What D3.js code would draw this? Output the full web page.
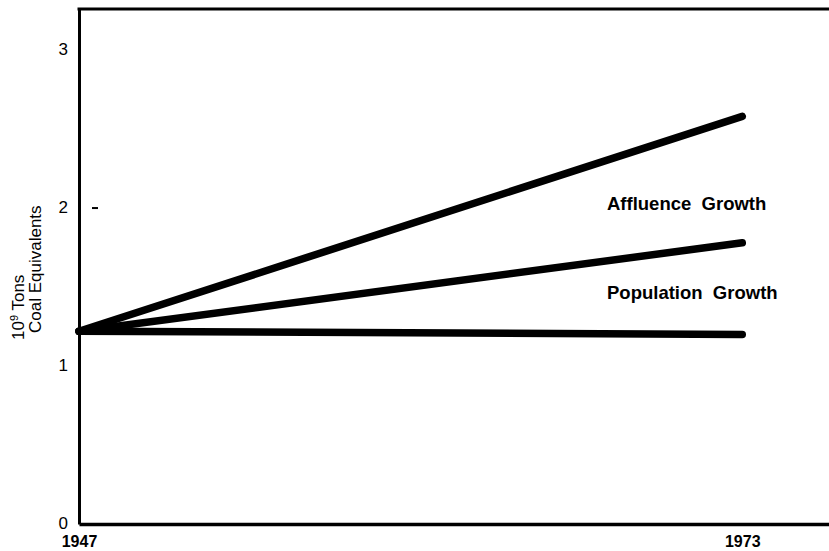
<!DOCTYPE html>
<html>
<head>
<meta charset="utf-8">
<script src="https://cdn.jsdelivr.net/npm/d3@7"></script>
<style>
  body { margin: 0; background: #fff; }
  svg { display: block; font-family: "Liberation Sans", Arial, sans-serif; }
</style>
</head>
<body>
<div id="chart"></div>
<script>
// values
const years = [1947, 1973];
const affluenceGrowth = [1.22, 2.58];
const populationGrowth = [1.22, 1.78];
const baseLevel = [1.22, 1.20];
const yTicks = [0, 1, 2, 3];
const seriesLabels = ["Affluence\u00a0 Growth", "Population\u00a0 Growth"];
const yLabelLines = ["10", "9", " Tons", "Coal Equivalents"];

const width = 829, height = 551;
const margin = {top: 9, right: 0, bottom: 27, left: 79};

const svg = d3.select("#chart")
    .append("svg")
    .attr("width", width)
    .attr("height", height);

// x runs past 1973 to the right edge of the frame
const x = d3.scaleLinear()
    .domain([1947, 1976.4])
    .range([margin.left, width - margin.right]);

const y = d3.scaleLinear()
    .domain([0, 3.26])
    .range([height - margin.bottom, margin.top]);

// y axis
const yAxis = svg.append("g")
    .attr("transform", "translate(" + margin.left + ",0)")
    .call(d3.axisLeft(y).tickValues(yTicks).tickSize(0).tickSizeOuter(0).tickPadding(11).tickFormat(d3.format("d")));
yAxis.select(".domain").attr("stroke", "#000").attr("stroke-width", 3);
yAxis.selectAll("text")
    .attr("font-size", 17)
    .attr("dy", "0.25em")
    .attr("font-family", "Liberation Sans, Arial, sans-serif")
    .attr("fill", "#000");

// x axis
const xAxis = svg.append("g")
    .attr("transform", "translate(0," + y(0) + ")")
    .call(d3.axisBottom(x).tickValues(years).tickSize(0).tickSizeOuter(0).tickPadding(12).tickFormat(d3.format("d")));
xAxis.select(".domain").attr("stroke", "#000").attr("stroke-width", 3.5);
xAxis.selectAll("text")
    .attr("font-size", 16)
    .attr("font-weight", "bold")
    .attr("font-family", "Liberation Sans, Arial, sans-serif")
    .attr("fill", "#000");

// top border of the frame
svg.append("line")
    .attr("x1", margin.left - 1.5)
    .attr("x2", width)
    .attr("y1", y(3.26))
    .attr("y2", y(3.26))
    .attr("stroke", "#000")
    .attr("stroke-width", 3);

// small dash at 2
svg.append("line")
    .attr("x1", margin.left + 13)
    .attr("x2", margin.left + 19)
    .attr("y1", y(2))
    .attr("y2", y(2))
    .attr("stroke", "#000")
    .attr("stroke-width", 2);

// the three lines
const line = d3.line()
    .x((d, i) => x(years[i]))
    .y(d => y(d));

[affluenceGrowth, populationGrowth, baseLevel].forEach(series => {
    svg.append("path")
        .datum(series)
        .attr("d", line)
        .attr("fill", "none")
        .attr("stroke", "#000")
        .attr("stroke-width", 7.5)
        .attr("stroke-linecap", "round");
});

// labels between the lines
svg.append("text")
    .attr("x", 607)
    .attr("y", 210)
    .attr("font-size", 18.5)
    .attr("font-weight", "bold")
    .text(seriesLabels[0]);

svg.append("text")
    .attr("x", 607)
    .attr("y", 299)
    .attr("font-size", 18.5)
    .attr("font-weight", "bold")
    .text(seriesLabels[1]);

// y axis title, two rotated lines
const t1 = svg.append("text")
    .attr("transform", "translate(24,340) rotate(-90)")
    .attr("font-size", 17);
t1.append("tspan").text(yLabelLines[0]);
t1.append("tspan").attr("font-size", 11).attr("dy", -6).text(yLabelLines[1]);
t1.append("tspan").attr("dy", 6).text(yLabelLines[2]);

svg.append("text")
    .attr("transform", "translate(41,333) rotate(-90)")
    .attr("font-size", 17)
    .text(yLabelLines[3]);
</script>
</body>
</html>
